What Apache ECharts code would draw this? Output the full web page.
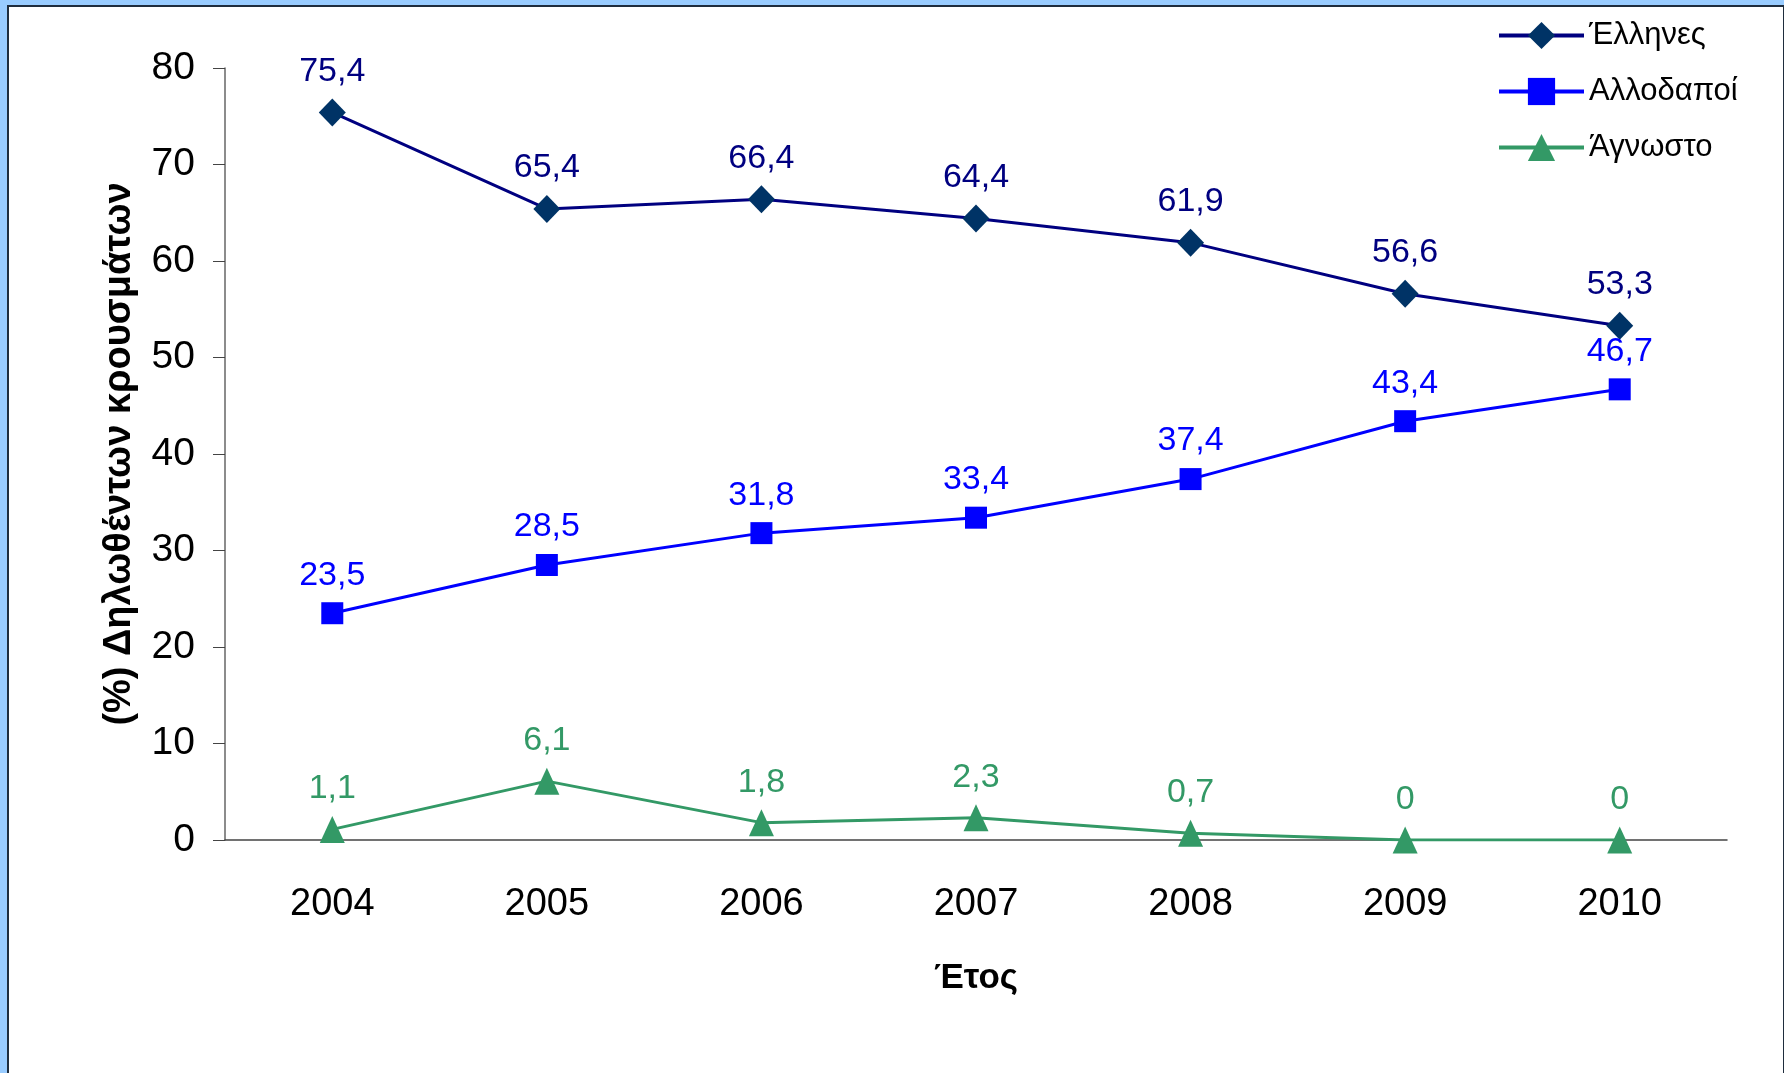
<!DOCTYPE html>
<html>
<head>
<meta charset="utf-8">
<script src="https://cdn.jsdelivr.net/npm/echarts@6/dist/echarts.min.js"></script>
<style>
  html, body { margin: 0; padding: 0; background: #99ccff; }
  #frame {
    position: absolute; left: 7px; top: 5px; width: 1774px; height: 1068px;
    background: #fff; border-left: 2px solid #1f2d3d; border-top: 2px solid #1f2d3d; border-right: 2px solid #1f2d3d;
  }
  #chart { position: absolute; left: 0; top: 0; width: 1784px; height: 1073px; }
</style>
</head>
<body>
<div id="frame"></div>
<div id="chart"></div>
<script>
const years = ['2004', '2005', '2006', '2007', '2008', '2009', '2010'];
const greeks = [75.4, 65.4, 66.4, 64.4, 61.9, 56.6, 53.3];
const foreigners = [23.5, 28.5, 31.8, 33.4, 37.4, 43.4, 46.7];
const unknown = [1.1, 6.1, 1.8, 2.3, 0.7, 0, 0];

const font = "'Liberation Sans', Arial, sans-serif";
const chartDom = document.getElementById('chart');
const myChart = echarts.init(chartDom, null, { renderer: 'canvas' });

// τιμές με κόμμα αντί για τελεία
const fmt = (p) => String(p.value).replace('.', ',');

const makeSeries = (name, data, color, symbol, symbolSize, symbolColor) => ({
    name: name,
    type: 'line',
    data: data,
    symbol: symbol,
    symbolSize: symbolSize,
    lineStyle: { color: color, width: 3 },
    itemStyle: { color: symbolColor, borderWidth: 0 },
    label: {
        show: true,
        position: 'top',
        distance: 10,
        formatter: fmt,
        color: color,
        fontSize: 34,
        fontFamily: font,
    },
});

const option = {
    animation: false,
    textStyle: { fontFamily: font },
    grid: { left: 225, right: 57, top: 68, bottom: 233 },
    legend: {
        orient: 'vertical',
        left: 1497,
        top: 20,
        padding: 0,
        itemWidth: 85,
        itemHeight: 34,
        itemGap: 25,
        lineStyle: { width: 4 },
        textStyle: { fontSize: 31, color: '#000', fontFamily: font },
        data: ['Έλληνες', 'Αλλοδαποί', 'Άγνωστο'],
    },
    xAxis: {
        type: 'category',
        data: years,
        boundaryGap: true,
        name: 'Έτος',
        nameLocation: 'middle',
        nameGap: 121,
        nameTextStyle: { fontSize: 35, fontWeight: 'bold', color: '#000' },
        axisLine: { lineStyle: { color: '#444', width: 1.5 } },
        axisTick: { length: 12, lineStyle: { color: '#444' } },
        axisLabel: { fontSize: 38, color: '#000', margin: 46 },
    },
    yAxis: {
        type: 'value',
        min: 0,
        max: 80,
        interval: 10,
        name: '(%) Δηλωθέντων κρουσμάτων',
        nameLocation: 'middle',
        nameRotate: 90,
        nameGap: 86,
        nameTextStyle: { fontSize: 38, fontWeight: 'bold', color: '#000' },
        axisLine: { show: true, lineStyle: { color: '#666', width: 1.5 } },
        axisTick: { show: true, length: 12, lineStyle: { color: '#444' } },
        axisLabel: { fontSize: 39, color: '#000', margin: 30 },
        splitLine: { show: false },
    },
    series: [
        makeSeries('Έλληνες', greeks, '#000080', 'diamond', [27, 28], '#003366'),
        makeSeries('Αλλοδαποί', foreigners, '#0000ff', 'rect', 22, '#0000ff'),
        makeSeries('Άγνωστο', unknown, '#339966', 'triangle', [25, 27], '#339966'),
    ],
};
myChart.setOption(option);
</script>
</body>
</html>
